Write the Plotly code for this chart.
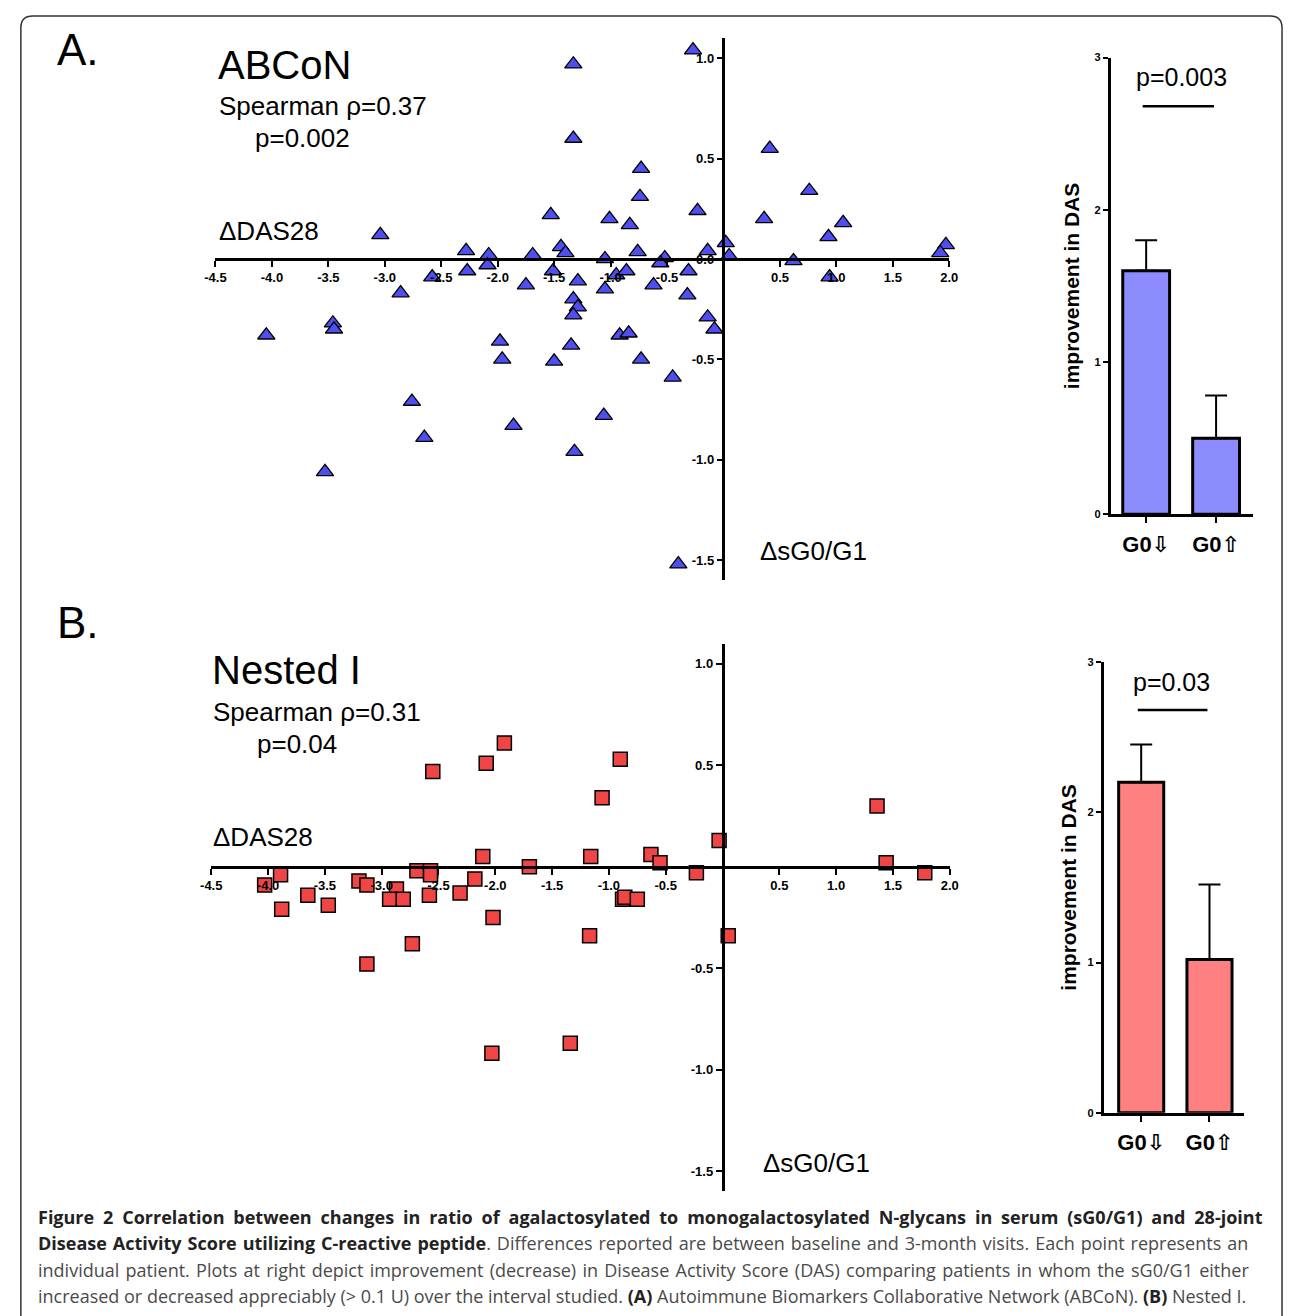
import plotly.graph_objects as go

W, H = 1293, 1316

# ---------------- data ----------------
# Panel A: ABCoN  (x = delta sG0/G1, y = delta DAS28)
abcon_dsg = [-1.33, -0.27, -1.33, -0.73, 0.41, -0.74, 0.76, -1.53, -1.01, -0.83,
             -0.23, 0.36, 1.06, 0.93, 0.02, -0.14, 0.05, 1.97, 1.92, 0.62,
             0.94, -2.08, -2.09, -1.69, -1.44, -1.40, -1.51, -1.05, -0.76, -0.52,
             -0.56, -0.95, -0.86, -1.29, -1.75, -1.05, -0.62, -0.31, -0.32, -1.33,
             -1.29, -1.33, -0.14, -0.08, -0.92, -0.84, -3.04, -2.28, -2.27, -2.58,
             -2.86, -4.05, -3.46, -3.45, -2.76, -2.65, -3.53, -1.98, -1.96, -1.86,
             -1.50, -1.35, -1.32, -1.06, -0.73, -0.45, -0.40]
abcon_ddas = [0.97, 1.04, 0.60, 0.45, 0.55, 0.31, 0.34, 0.22, 0.20, 0.17,
              0.24, 0.20, 0.18, 0.11, 0.08, 0.04, 0.015, 0.07, 0.03, -0.01,
              -0.09, 0.02, -0.03, 0.02, 0.06, 0.03, -0.06, 0.00, 0.035, 0.005,
              -0.02, -0.08, -0.06, -0.11, -0.13, -0.15, -0.13, -0.06, -0.18, -0.20,
              -0.24, -0.28, -0.29, -0.35, -0.38, -0.37, 0.12, 0.04, -0.06, -0.09,
              -0.17, -0.38, -0.32, -0.35, -0.71, -0.89, -1.06, -0.41, -0.50, -0.83,
              -0.51, -0.43, -0.96, -0.78, -0.50, -0.59, -1.52]

# Panel B: Nested I
nested_dsg = [-1.92, -2.08, -2.55, -0.90, -1.06, 1.36, -0.03, -2.11, -1.16, -0.63,
              -0.55, 1.44, -1.70, -2.69, -2.57, -2.57, -3.89, -4.03, -3.20, -3.13,
              -3.65, -3.47, -3.88, -2.87, -2.93, -2.81, -2.58, -2.31, -2.18, -0.23,
              1.78, -0.88, -0.86, -0.75, -2.02, -1.17, 0.05, -2.73, -3.13, -2.03,
              -1.34]
nested_ddas = [0.61, 0.51, 0.47, 0.53, 0.34, 0.30, 0.13, 0.05, 0.05, 0.06,
               0.02, 0.02, 0.00, -0.02, -0.02, -0.04, -0.04, -0.09, -0.07, -0.09,
               -0.14, -0.19, -0.21, -0.11, -0.16, -0.16, -0.14, -0.13, -0.06, -0.03,
               -0.03, -0.16, -0.15, -0.16, -0.25, -0.34, -0.34, -0.38, -0.48, -0.92,
               -0.87]

# Bar panels: improvement in DAS
bar_groups = ["G0\u21e9", "G0\u21e7"]
abcon_bar = [1.60, 0.50]
abcon_err = [0.20, 0.28]
nested_bar = [2.20, 1.02]
nested_err = [0.25, 0.50]
abcon_p = "p=0.003"
nested_p = "p=0.03"

x_ticks = [-4.5, -4.0, -3.5, -3.0, -2.5, -2.0, -1.5, -1.0, -0.5, 0.5, 1.0, 1.5, 2.0]
yA_ticks = [1.0, 0.5, 0.0, -0.5, -1.0, -1.5]
yB_ticks = [1.0, 0.5, -0.5, -1.0, -1.5]
bar_ticks = [0, 1, 2, 3]

# ---------------- helpers ----------------
def fx(px):
    return px / W

def fy(py):
    return 1 - py / H

XR = [-4.5, 2.0]
YR = [-1.6, 1.1]

fig = go.Figure()

BLUE_MK = "#4f4ff0"
RED_MK = "#f04545"
BLUE_BAR = "#8c8cff"
RED_BAR = "#ff8080"
TICKFONT = dict(family="Liberation Sans, Arial", size=13, color="black", weight="bold")


def scatter_axes(idx, dom_x, dom_y, yticks):
    xa = "xaxis" if idx == 1 else f"xaxis{idx}"
    ya = "yaxis" if idx == 1 else f"yaxis{idx}"
    xpos = dom_x[0] + (0 - XR[0]) / (XR[1] - XR[0]) * (dom_x[1] - dom_x[0])
    ypos = dom_y[0] + (0 - YR[0]) / (YR[1] - YR[0]) * (dom_y[1] - dom_y[0])
    yname = "y" if idx == 1 else f"y{idx}"
    xname = "x" if idx == 1 else f"x{idx}"
    fig.layout[xa] = dict(domain=dom_x, range=XR, anchor="free", position=ypos,
                          showline=True, linecolor="black", linewidth=2.5,
                          ticks="outside", ticklen=6, tickwidth=2, tickcolor="black",
                          tickvals=x_ticks, ticktext=[f"{v:.1f}" for v in x_ticks],
                          tickfont=TICKFONT, showgrid=False, zeroline=False,
                          ticklabelstandoff=0)
    fig.layout[ya] = dict(domain=dom_y, range=YR, anchor="free", position=xpos,
                          showline=True, linecolor="black", linewidth=2.5,
                          ticks="outside", ticklen=6, tickwidth=2, tickcolor="black",
                          tickvals=yticks, ticktext=[f"{v:.1f}" for v in yticks],
                          tickfont=TICKFONT, showgrid=False, zeroline=False,
                          ticklabelstandoff=0)
    return xname, yname


def bar_axes(idx, dom_x, dom_y, xr, standoff):
    xa = f"xaxis{idx}"
    ya = f"yaxis{idx}"
    fig.layout[xa] = dict(domain=dom_x, range=xr, anchor=f"y{idx}",
                          showline=True, linecolor="black", linewidth=3,
                          ticks="outside", ticklen=6, tickwidth=2, tickcolor="black",
                          tickvals=[0, 1], ticktext=bar_groups,
                          tickfont=dict(family="Liberation Sans, DejaVu Sans, Arial", size=22,
                                        color="black", weight="bold"),
                          showgrid=False, zeroline=False, ticklabelstandoff=2)
    fig.layout[ya] = dict(domain=dom_y, range=[0, 3], anchor=f"x{idx}",
                          showline=True, linecolor="black", linewidth=3,
                          ticks="outside", ticklen=5, tickwidth=2, tickcolor="black",
                          tickvals=bar_ticks, tickfont=dict(family="Liberation Sans, Arial", size=11,
                                                            color="black", weight="bold"),
                          showgrid=False, zeroline=False,
                          title=dict(text="improvement in DAS", standoff=standoff,
                                     font=dict(family="Liberation Sans, Arial", size=21,
                                               color="black", weight="bold")))
    return f"x{idx}", f"y{idx}"


# ---------------- Panel A scatter ----------------
xA, yA = scatter_axes(1, [fx(207.7), fx(953.0)], [fy(579.5), fy(32.4)], yA_ticks)
fig.add_trace(go.Scatter(x=abcon_dsg, y=abcon_ddas, mode="markers", xaxis=xA, yaxis=yA,
                         marker=dict(symbol="triangle-up", size=15, color=BLUE_MK,
                                     line=dict(color="black", width=1.3)),
                         showlegend=False, cliponaxis=False))

# ---------------- Panel B scatter ----------------
xB, yB = scatter_axes(2, [fx(203.4), fx(953.5)], [fy(1196.2), fy(643.5)], yB_ticks)
fig.add_trace(go.Scatter(x=nested_dsg, y=nested_ddas, mode="markers", xaxis=xB, yaxis=yB,
                         marker=dict(symbol="square", size=14, color=RED_MK,
                                     line=dict(color="black", width=1.5)),
                         showlegend=False, cliponaxis=False))

# ---------------- Bar A ----------------
xbA, ybA = bar_axes(3, [fx(1117), fx(1262)], [fy(513), fy(52)], [-0.507, 1.535], 10)
fig.add_trace(go.Bar(x=[0, 1], y=abcon_bar, xaxis=xbA, yaxis=ybA, width=0.67,
                     marker=dict(color=BLUE_BAR, line=dict(color="black", width=3)),
                     error_y=dict(type="data", array=abcon_err, arrayminus=[0, 0],
                                  symmetric=False, color="black", thickness=2, width=11),
                     showlegend=False))

# ---------------- Bar B ----------------
xbB, ybB = bar_axes(4, [fx(1110), fx(1252)], [fy(1117), fy(662)], [-0.547, 1.50], 6)
fig.add_trace(go.Bar(x=[0, 1], y=nested_bar, xaxis=xbB, yaxis=ybB, width=0.66,
                     marker=dict(color=RED_BAR, line=dict(color="black", width=3)),
                     error_y=dict(type="data", array=nested_err, arrayminus=[0, 0],
                                  symmetric=False, color="black", thickness=2, width=11),
                     showlegend=False))

# significance bars
sig_level = 2.68
for xr, yr in [(xbA, ybA), (xbB, ybB)]:
    fig.add_shape(type="line", xref=xr, yref=yr, x0=-0.05, x1=0.97, y0=sig_level, y1=sig_level,
                  line=dict(color="black", width=2.5))
fig.add_annotation(xref=xbA, yref=ybA, x=0.5, y=2.87, text=abcon_p, showarrow=False,
                   font=dict(family="Liberation Sans, Arial", size=25, color="black"))
fig.add_annotation(xref=xbB, yref=ybB, x=0.45, y=2.87, text=nested_p, showarrow=False,
                   font=dict(family="Liberation Sans, Arial", size=25, color="black"))

# ---------------- text annotations ----------------
SANS = "Liberation Sans, Arial"


def txt(px, py, s, size, xanchor="left", bold=False, color="black", family=SANS):
    fig.add_annotation(xref="paper", yref="paper", x=fx(px), y=fy(py), text=s,
                       showarrow=False, xanchor=xanchor, yanchor="middle",
                       font=dict(family=family, size=size, color=color,
                                 weight="bold" if bold else "normal"))


txt(45, 44, "A.", 44)
txt(45, 622, "B.", 44)

txt(208, 60, "ABCoN", 40)
txt(209, 101, "Spearman \u03c1=0.37", 26)
txt(246, 133, "p=0.002", 26)
txt(209, 227, "\u0394DAS28", 26)
txt(759, 550, "\u0394sG0/G1", 26)

txt(202, 670, "Nested I", 40)
txt(203, 712, "Spearman \u03c1=0.31", 26)
txt(248, 745, "p=0.04", 26)
txt(203, 839, "\u0394DAS28", 26)
txt(762, 1168, "\u0394sG0/G1", 26)

# caption (justified look via word spacing)
CAP = "Open Sans, Noto Sans, sans-serif"
DK = "<b><span style='color:#222222'>{}</span></b>"
cap_lines = [
    DK.format("Figure 2 Correlation between changes in ratio of agalactosylated to monogalactosylated N-glycans in serum (sG0/G1) and 28-joint"),
    DK.format("Disease Activity Score utilizing C-reactive peptide") + ". Differences reported are between baseline and 3-month visits. Each point represents an",
    "individual patient. Plots at right depict improvement (decrease) in Disease Activity Score (DAS) comparing patients in whom the sG0/G1 either",
    "increased or decreased appreciably (&gt; 0.1 U) over the interval studied. " + DK.format("(A)")
    + " Autoimmune Biomarkers Collaborative Network (ABCoN). " + DK.format("(B)") + " Nested I.",
]
cap_spacing = [4.2, 1.3, 1.6, 0.0]
for i, line in enumerate(cap_lines):
    s = f"<span style='word-spacing:{cap_spacing[i]}px'>{line}</span>"
    txt(25, 1222 + i * 26.7, s, 18, color="#4a4a4a", family=CAP)

# frame
fig.add_shape(type="path", xref="paper", yref="paper",
              path=f"M {fx(10)} {fy(1330)} L {fx(10)} {fy(22)} Q {fx(10)} {fy(10)} {fx(22)} {fy(10)} "
                   f"L {fx(1279)} {fy(10)} Q {fx(1291)} {fy(10)} {fx(1291)} {fy(22)} L {fx(1291)} {fy(1330)}",
              line=dict(color="#333333", width=1.5))

fig.update_layout(width=W, height=H, margin=dict(l=0, r=0, t=0, b=0),
                  plot_bgcolor="white", paper_bgcolor="white", showlegend=False,
                  font=dict(family=SANS, color="black"))

fig.write_html("out.html", config={"displayModeBar": False},
               post_script="document.body.style.margin='0';document.body.style.overflow='hidden';")
